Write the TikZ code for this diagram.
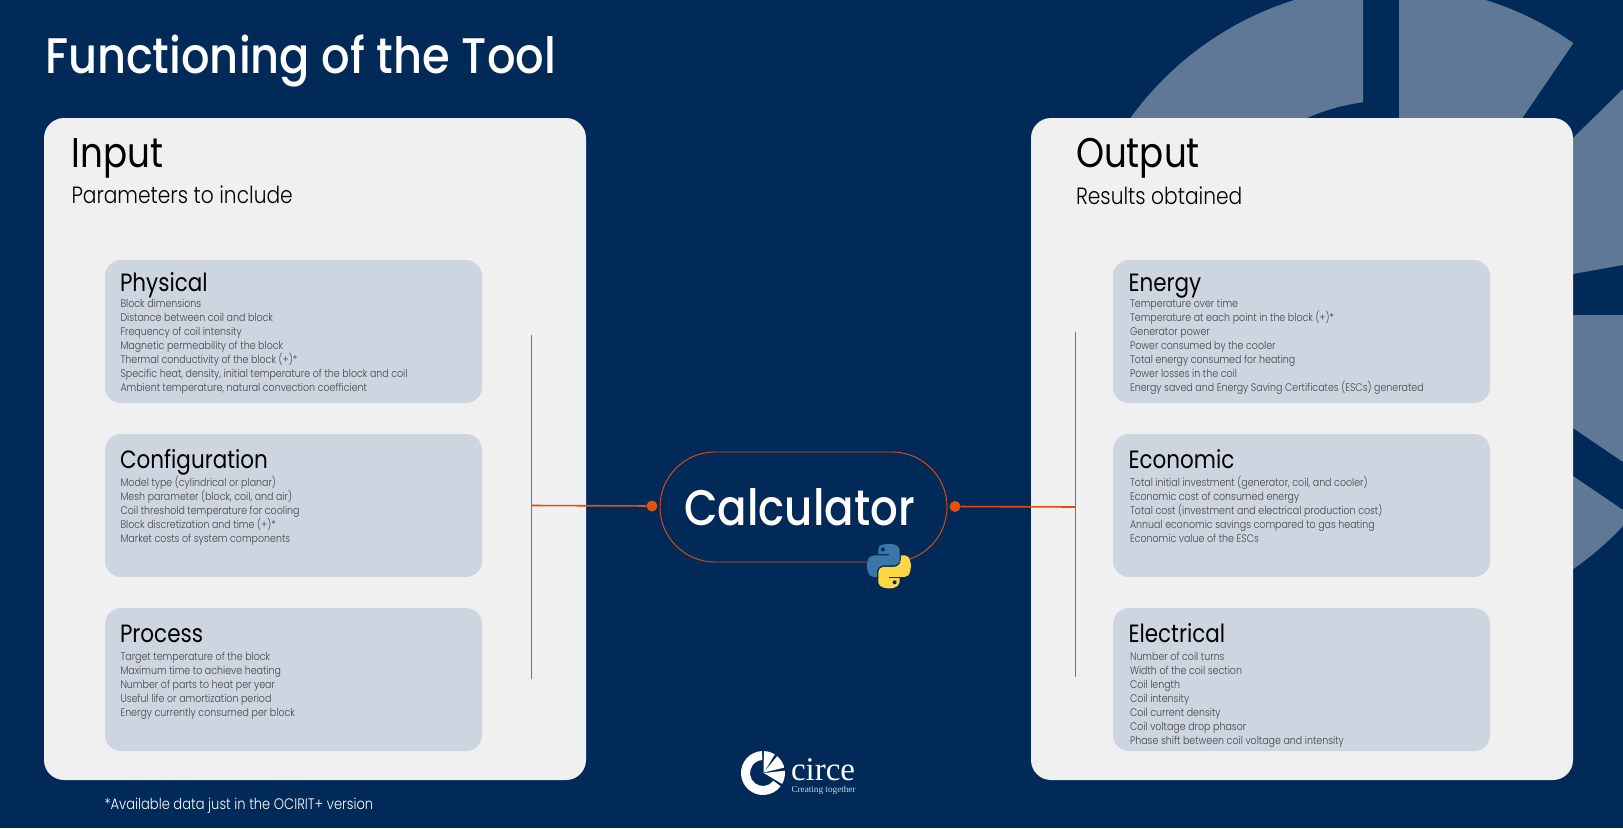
\documentclass[tikz,border=0pt]{standalone}
\usepackage{fontspec}
\setmainfont{Liberation Sans}
\newfontfamily\fhead[FakeStretch=0.86]{Poppins}
\newfontfamily\fmed[FakeStretch=0.895,UprightFont=* Medium]{Poppins}
\newfontfamily\flight[FakeStretch=0.86,UprightFont=* Light]{Poppins}
\newfontfamily\fcalc[FakeStretch=0.87,UprightFont=* Medium]{Poppins}
\newfontfamily\fserif{Liberation Serif}
\definecolor{bgnavy}{HTML}{012A58}
\definecolor{wedge}{HTML}{5F7896}
\definecolor{panel}{HTML}{F0F0F0}
\definecolor{subbox}{HTML}{CDD5E1}
\definecolor{accent}{HTML}{E0500F}
\definecolor{bodytext}{HTML}{444444}
\definecolor{pyblue}{HTML}{3A76A8}
\definecolor{pyyellow}{HTML}{FFD745}
\tikzset{
  panelbox/.style={fill=panel,rounded corners=20pt},
  subpanel/.style={fill=subbox,rounded corners=16pt},
  txt/.style={anchor=base west,inner sep=0pt,outer sep=0pt},
  bigtitle/.style={txt,text=black,font=\fhead\fontsize{41.5}{41.5}\selectfont},
  subtitle/.style={txt,text=black,font=\flight\fontsize{23.5}{23.5}\selectfont},
  boxhead/.style={txt,text=black,font=\fhead\fontsize{25}{25}\selectfont},
  boxitem/.style={txt,text=bodytext,font=\flight\fontsize{11}{11}\selectfont},
  dot/.style={circle,fill=accent,inner sep=0pt,minimum size=11pt},
  wire/.style={draw=accent,line width=1.6pt},
  rail/.style={draw=accent,line width=0.8pt},
}
\newcommand{\itemlist}[4]{% name, x, y, items
  \foreach \t [count=\i from 0] in {#4} {
    \node[boxitem] (#1-\i) at (#2,#3+14*\i) {\t};
  }
}
\begin{document}
\begin{tikzpicture}[x=1pt,y=-1pt]
\useasboundingbox (0,0) rectangle (1623,828);
\fill[bgnavy] (0,0) rectangle (1623,828);
% decorative logo
\begin{scope}
\clip (0,0) rectangle (1623,828);
\begin{scope}
\clip (1000,-10) rectangle (1363,400);
\fill[wedge,even odd rule] (1390,306) circle (320.5pt) (1390,306) circle (205.5pt);
\end{scope}
\begin{scope}
\clip (1390,306) circle (320.5pt);
\fill[wedge] (1399,-5) -- (1399,130) -- (1514,130) -- (1523,117) -- (1600,4) -- (1600,-5) -- cycle;
\fill[wedge] (1560,150) -- (1573,138) -- (1623,89) -- (1660,52) -- (1660,260) -- (1623,265) -- (1573,274) -- (1560,276) -- cycle;
\fill[wedge] (1560,315) -- (1660,315) -- (1660,487) -- (1623,462) -- (1573,428) -- (1560,419) -- cycle;
\fill[wedge] (1560,467) -- (1573,476) -- (1623,510) -- (1660,535) -- (1660,700) -- (1560,700) -- cycle;
\end{scope}
\end{scope}
% title
\node[txt,text=white,font=\fmed\fontsize{50}{50}\selectfont] (title) at (45,73) {Functioning of the Tool};
% panels
\fill[panelbox] (44,118) rectangle (586,780);
\fill[panelbox] (1031,118) rectangle (1573,780);
\node[bigtitle] (inT) at (71.5,167) {Input};
\node[subtitle] (inS) at (71.5,203) {Parameters to include};
\node[bigtitle] (outT) at (1076,167) {Output};
\node[subtitle] (outS) at (1076,204) {Results obtained};
% sub boxes
\fill[subpanel] (105,260) rectangle (482,403);
\fill[subpanel] (105,434) rectangle (482,577);
\fill[subpanel] (105,608) rectangle (482,751);
\fill[subpanel] (1113,260) rectangle (1490,403);
\fill[subpanel] (1113,434) rectangle (1490,577);
\fill[subpanel] (1113,608) rectangle (1490,751);
\node[boxhead] (h1) at (120,291) {Physical};
\itemlist{a}{120.5}{307.3}{Block dimensions,Distance between coil and block,Frequency of coil intensity,Magnetic permeability of the block,Thermal conductivity of the block (+)*,{Specific heat, density, initial temperature of the block and coil},{Ambient temperature, natural convection coefficient}}
\node[boxhead] (h2) at (120,468.5) {Configuration};
\itemlist{b}{120.5}{486.3}{Model type (cylindrical or planar),{Mesh parameter (block, coil, and air)},Coil threshold temperature for cooling,Block discretization and time (+)*,Market costs of system components}
\node[boxhead] (h3) at (120,642.5) {Process};
\itemlist{c}{120.5}{660.3}{Target temperature of the block,Maximum time to achieve heating,Number of parts to heat per year,Useful life or amortization period,Energy currently consumed per block}
\node[boxhead] (h4) at (1128.5,291) {Energy};
\itemlist{d}{1130}{307.3}{Temperature over time,Temperature at each point in the block (+)*,Generator power,Power consumed by the cooler,Total energy consumed for heating,Power losses in the coil,Energy saved and Energy Saving Certificates (ESCs) generated}
\node[boxhead] (h5) at (1128.5,468.5) {Economic};
\itemlist{e}{1130}{486.3}{{Total initial investment (generator, coil, and cooler)},Economic cost of consumed energy,Total cost (investment and electrical production cost),Annual economic savings compared to gas heating,Economic value of the ESCs}
\node[boxhead] (h6) at (1128.5,642.5) {Electrical};
\itemlist{f}{1130}{660.3}{Number of coil turns,Width of the coil section,Coil length,Coil intensity,Coil current density,Coil voltage drop phasor,Phase shift between coil voltage and intensity}
% footnote
\node[txt,text=white,font=\flight\fontsize{15.2}{15.2}\selectfont] (foot) at (104.5,809) {*Available data just in the OCIRIT+ version};
% calculator
\node[draw=accent,line width=0.9pt,rounded corners=55pt,minimum width=287pt,minimum height=110pt,inner sep=0pt,text=white,font=\fcalc\fontsize{50}{50}\selectfont] (calc) at (803.5,507) {\hspace*{-8pt}Calculator};
\node[dot] (dl) at (652,506) {};
\node[dot] (dr) at (955,506.5) {};
\coordinate (lt) at (531,335);
\coordinate (lb) at (531,679);
\coordinate (lm) at (531,505.5);
\coordinate (rt) at (1075.5,332);
\coordinate (rb) at (1075.5,677);
\coordinate (rm) at (1075.5,507);
\draw[rail,line width=0.7pt] (lt) -- (lb);
\draw[rail] (rt) -- (rb);
\draw[wire] (lm) -- (dl);
\draw[wire] (dr) -- (rm);
% python logo
\begin{scope}[shift={(867,544)},x=0.395pt,y=-0.395pt]
\fill[pyblue] (54.92,0) .. controls (50.33,0.02) and (45.94,0.41) .. (42.08,1.1) .. controls (30.71,3.11) and (28.64,7.31) .. (28.64,15.07) -- (28.64,25.31) -- (55.52,25.31) -- (55.52,28.72) -- (18.55,28.72) .. controls (10.74,28.72) and (3.9,33.42) .. (1.76,42.35) .. controls (-0.71,52.6) and (-0.82,58.98) .. (1.76,69.67) .. controls (3.67,77.63) and (8.22,83.3) .. (16.03,83.3) -- (25.27,83.3) -- (25.27,71.01) .. controls (25.27,62.13) and (32.95,54.29) .. (42.08,54.29) -- (68.92,54.29) .. controls (76.39,54.29) and (82.36,48.14) .. (82.36,40.63) -- (82.36,15.07) .. controls (82.36,7.79) and (76.22,2.32) .. (68.92,1.1) .. controls (64.3,0.33) and (59.51,-0.02) .. (54.92,0) -- cycle;
\fill[pyyellow] (85.64,28.66) -- (85.64,40.6) .. controls (85.64,49.86) and (77.79,57.65) .. (68.84,57.65) -- (41.99,57.65) .. controls (34.64,57.65) and (28.55,63.94) .. (28.55,71.3) -- (28.55,96.9) .. controls (28.55,104.2) and (34.89,108.4) .. (41.99,110.5) .. controls (50.49,113) and (58.64,113.45) .. (68.84,110.5) .. controls (75.61,108.5) and (82.28,104.6) .. (82.28,96.9) -- (82.28,86.66) -- (55.44,86.66) -- (55.44,83.25) -- (95.72,83.25) .. controls (103.53,83.25) and (106.44,77.8) .. (109.16,69.62) .. controls (111.97,61.2) and (111.85,53.1) .. (109.16,42.3) .. controls (107.23,34.54) and (103.53,28.66) .. (95.72,28.66) -- cycle;
\fill[bgnavy] (40,14) circle (2pt);
\fill[bgnavy] (70,97) circle (2pt);
\end{scope}
% circe logo
\fill[white] (763,773) ++(93:22pt) arc[start angle=93,end angle=323,radius=22pt] -- ([shift={(323:13pt)}]763,773) arc[start angle=323,end angle=93,radius=13pt] -- cycle;
\begin{scope}
\clip (763,773) circle (22pt);
\fill[white] ([shift={(0.5pt,0pt)}]763,773) -- ([shift={(88:30pt)}]763,773) -- ([shift={(58:30pt)}]763,773) -- cycle;
\fill[white] (763.6,772.5) -- ([shift={(50:30pt)}]763,773) -- ([shift={(14:30pt)}]763,773) -- cycle;
\fill[white] (763.8,773) -- ([shift={(6:30pt)}]763,773) -- ([shift={(-30:30pt)}]763,773) -- cycle;
\end{scope}
\node[txt,text=white,font=\fserif\fontsize{33}{33}\selectfont] (circe) at (791,780) {circe};
\node[txt,text=subbox,font=\fserif\fontsize{9.2}{9.2}\selectfont] (tag) at (791.5,792) {Creating together};
\end{tikzpicture}
\end{document}
